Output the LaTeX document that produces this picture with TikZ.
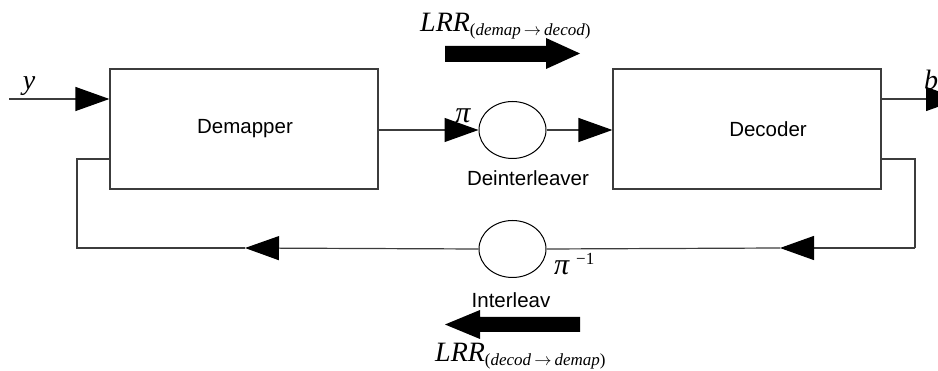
\documentclass[tikz,border=0pt]{standalone}
\usepackage{fontspec}
\setmainfont{Liberation Serif}
\newfontfamily\labfont{Liberation Sans}
\usetikzlibrary{arrows.meta,shapes.geometric}
\tikzset{
  x=1pt, y=-1pt,
  line/.style={draw={rgb,255:red,60;green,60;blue,60}, line width=1.2pt},
  blk/.style={line, rectangle, minimum width=268pt, minimum height=120pt, inner sep=0pt},
  perm/.style={draw=black, line width=1pt, ellipse, minimum width=67pt, minimum height=57pt, inner sep=0pt},
  tip/.style={-{Triangle[length=34pt,width=24pt,color=black]}},
  lab/.style={font=\labfont\fontsize{20.5}{22}\selectfont, inner sep=0pt},
  bigarrow/.style={fill=black},
  sym/.style={inner sep=0pt, font=\fontsize{30}{30}\selectfont\itshape},
}
\newcommand{\lrr}[1]{{\fontsize{28}{28}\selectfont\itshape LRR}\raisebox{-4pt}{\fontsize{17}{17}\selectfont #1}}
\newcommand{\rarr}{\hspace{3pt}$\rightarrow$\hspace{3pt}}
\begin{document}
\begin{tikzpicture}
\useasboundingbox (0,0) rectangle (938,371);
\clip (0,0) rectangle (938,371);
% blocks
\node[blk] (demap) at (244,129) {};
\node[blk] (decod) at (747,129) {};
\node[lab] (demaptxt) at (245,129) {Demapper};
\node[lab] (decodtxt) at (768,129) {Decoder};
\node[perm] (deint) at (512.5,130) {};
\node[perm] (inter) at (512.5,249) {};
\node[lab] (deinttxt) at (528,178) {Deinterleaver};
\node[lab] (intertxt) at (511,300) {Interleav};
% symbols
\node[sym, anchor=base] (pi) at (463,123) {π};
\node[sym, anchor=base west] (piinv) at (554,275) {π\hspace{7pt}\raisebox{10pt}{\upshape\fontsize{17}{17}\selectfont −1}};
\node[inner sep=0pt, font=\fontsize{28}{28}\selectfont\itshape] (ylab) at (29,86) {y};
\node[inner sep=0pt, font=\fontsize{28}{28}\selectfont\itshape] (blab) at (931,80) {b};
\node[inner sep=0pt, anchor=base west] (lrrtop) at (420,32) {\lrr{(\textit{demap}\rarr\textit{decod})}};
\node[inner sep=0pt, anchor=base west] (lrrbot) at (435,362) {\lrr{(\textit{decod}\rarr\textit{demap})}};
% coordinates
\coordinate (yin) at (9,99);
\coordinate (bout) at (960,99);
\coordinate (fbR1) at (881,159);
\coordinate (fbR2) at (915,159);
\coordinate (fbR3) at (915,248);
\coordinate (tipR) at (780,248);
\coordinate (tipL) at (245,248);
\coordinate (fbL1) at (77,248);
\coordinate (fbL2) at (77,159);
\coordinate (fbL3) at (110,159);
% forward path
\draw[line, tip] (yin) -- (demap.west |- yin);
\draw[line, tip] (demap.east |- deint.west) -- (deint.west);
\draw[line, tip] (deint.east) -- (decod.west |- deint.east);
\draw[line, tip] (decod.east |- bout) -- (bout);
% feedback path
\draw[line] (fbR1) -- (fbR2) -- (fbR3);
\draw[line, tip] (fbR3) -- (tipR);
\draw[line] (tipR) -- (inter.east);
\draw[line, tip] (inter.west) -- (tipL);
\draw[line] (tipL) -- (fbL1) -- (fbL2) -- (fbL3);
% big arrows
\fill[bigarrow] (445,46) -- (546,46) -- (546,38) -- (580,53.5) -- (546,69) -- (546,62) -- (445,62) -- cycle;
\fill[bigarrow] (580,317) -- (480,317) -- (480,310) -- (445,324.5) -- (480,339) -- (480,332) -- (580,332) -- cycle;
\end{tikzpicture}
\end{document}
